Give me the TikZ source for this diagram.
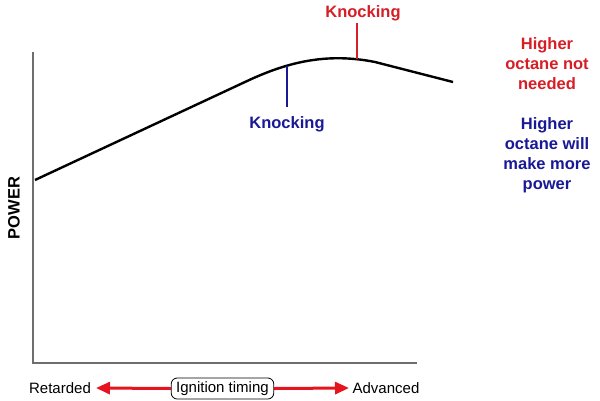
\documentclass[tikz,border=0pt]{standalone}
\usepackage{fontspec}
\setmainfont{Liberation Sans}
\usetikzlibrary{arrows.meta}
\definecolor{kred}{RGB}{214,30,38}
\definecolor{kblue}{RGB}{25,25,150}
\definecolor{axisgray}{RGB}{110,110,110}
\definecolor{arrred}{RGB}{230,20,30}
\tikzset{
  boldlbl/.style={font=\fontsize{16.5}{20}\selectfont\bfseries, inner sep=0pt, align=center},
  plainlbl/.style={font=\fontsize{15}{18}\selectfont, inner sep=0pt},
  marker/.style={line width=2pt},
  timingarrow/.style={arrred, line width=3pt, -{Triangle[length=14pt,width=12pt]}},
}
\begin{document}
\begin{tikzpicture}[x=1pt,y=-1pt]
\useasboundingbox (0,0) rectangle (600,400);
\fill[white] (0,0) rectangle (600,400);
% axes
\coordinate (ytop) at (33,52);
\coordinate (origin) at (33,363);
\coordinate (xend) at (417,363);
\draw[axisgray, line width=1.4pt] (ytop) -- (origin) -- (xend);
% curve
\draw[black, line width=2.4pt, line join=round] (35,180) -- (245,82) .. controls (285,63) and (325,52) .. (375,62) -- (453,82);
% knocking markers
\coordinate (bluept) at (287,65.5);
\coordinate (bluebot) at (287,107);
\coordinate (redpt) at (357,59);
\coordinate (redtop) at (357,23);
\draw[kblue, marker] (bluept) -- (bluebot);
\draw[kred, marker] (redpt) -- (redtop);
\node[boldlbl, kblue] (knockblue) at (287,124) {Knocking};
\node[boldlbl, kred] (knockred) at (363,13) {Knocking};
% right texts
\node[boldlbl, kred] (notneeded) at (547,64) {Higher\\octane not\\needed};
\node[boldlbl, kblue] (morepower) at (547,155) {Higher\\octane will\\make more\\power};
% y label
\node[boldlbl, rotate=90] (power) at (14,208) {POWER};
% bottom
\node[plainlbl] (retarded) at (60,388) {Retarded};
\node[plainlbl] (advanced) at (386,388) {Advanced};
\node[plainlbl, draw=black, line width=0.8pt, rounded corners=6pt, inner xsep=5pt, inner ysep=3pt, minimum height=21pt] (timing) at (222.5,388.5) {Ignition timing};
\coordinate (ltip) at (96,388);
\coordinate (rtip) at (349,388);
\draw[timingarrow] (timing.west) -- (ltip);
\draw[timingarrow] (timing.east) -- (rtip);
\end{tikzpicture}
\end{document}
